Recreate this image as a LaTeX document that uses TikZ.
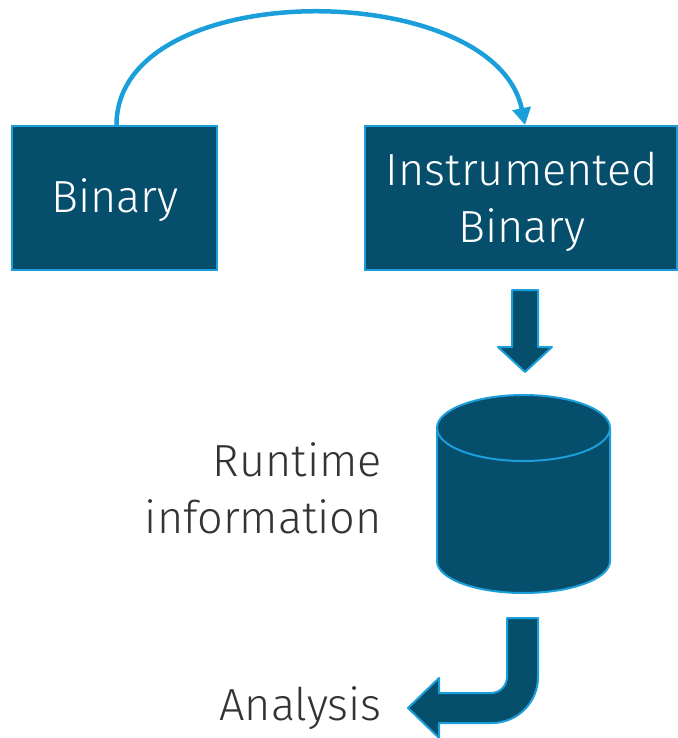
\documentclass[tikz,border=0pt]{standalone}
\usepackage{fontspec}
\setmainfont{Fira Sans Light}
\usetikzlibrary{arrows.meta}
\definecolor{boxfill}{HTML}{054E6C}
\definecolor{edgeblue}{HTML}{1A9FDB}
\definecolor{labelgray}{HTML}{333333}
\tikzset{
  blockbox/.style={draw=edgeblue, line width=2pt, fill=boxfill, text=white,
    font=\fontsize{45}{57}\selectfont, align=center, inner sep=0pt},
  blockshape/.style={draw=edgeblue, line width=2pt, fill=boxfill, line join=round},
  sidelabel/.style={text=labelgray, font=\fontsize{45}{57}\selectfont, align=right, inner sep=0pt},
  curvearrow/.style={draw=edgeblue, line width=4.5pt, -{Triangle[width=18pt,length=17pt]}}
}
\begin{document}
\begin{tikzpicture}[x=1pt,y=-1pt]
\useasboundingbox (0,0) rectangle (677,738);
% boxes
\node[blockbox, minimum width=205pt, minimum height=144pt] (bin) at (114.5,198) {};
\node[text=white, font=\fontsize{45}{57}\selectfont, inner sep=0pt] (bint) at (115,200) {Binary};
\node[blockbox, minimum width=312pt, minimum height=144pt] (ib) at (521,198) {};
\node[text=white, font=\fontsize{45}{57}\selectfont, align=center, inner sep=0pt] (ibt) at (522,202) {Instrumented\\Binary};
% curved arrow
\draw[curvearrow] ([xshift=2pt]bin.north) .. controls +(0,-150) and +(-30,-148) .. ([xshift=4pt]ib.north);
% down block arrow
\path[blockshape] (512,290) -- (538,290) -- (538,347) -- (552,347) -- (525,372) -- (498,347) -- (512,347) -- cycle;
% cylinder
\path[blockshape] (437,428) -- (437,561) arc (180:0:86.5 and 32) -- (610,428) arc (0:-180:86.5 and 33) -- cycle;
\draw[edgeblue, line width=2pt] (437,428) arc (180:0:86.5 and 33);
% bent block arrow
\path[blockshape] (507,618) -- (538,618) -- (538,677) arc (0:90:46) -- (439,723) -- (439,738) -- (408,708) -- (439,678) -- (439,693) -- (491,693) arc (90:0:16) -- cycle;
% labels
\node[sidelabel, anchor=east] (rt) at (382,488) {Runtime\\information};
\node[sidelabel, anchor=east] (an) at (382,708) {Analysis};
\end{tikzpicture}
\end{document}
